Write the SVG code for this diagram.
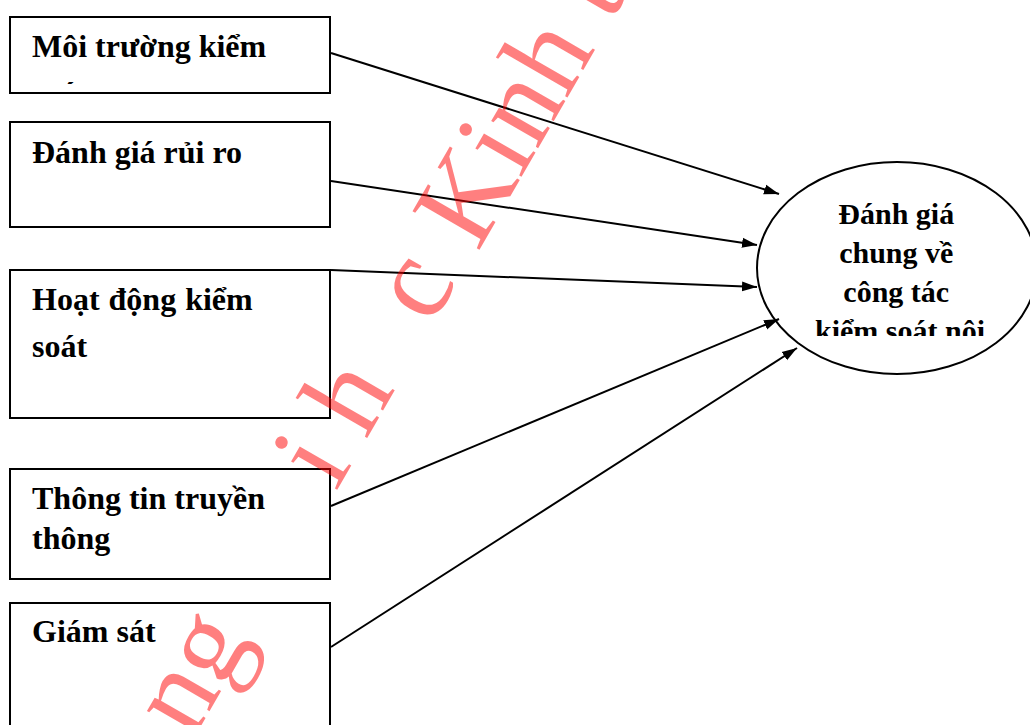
<svg xmlns="http://www.w3.org/2000/svg" width="1030" height="725" viewBox="0 0 1030 725">
  <style>
    .box { fill: #ffffff; stroke: #000000; stroke-width: 2; }
    .oval { fill: #ffffff; stroke: #000000; stroke-width: 2; }
    .lbl { font-family: "Liberation Serif", "Times New Roman", serif; font-weight: bold; font-size: 32px; fill: #000000; }
    .olbl { font-family: "Liberation Serif", "Times New Roman", serif; font-weight: bold; font-size: 30px; fill: #000000; text-anchor: middle; }
    .conn { fill: none; stroke: #000000; stroke-width: 2; marker-end: url(#arrow); }
    .wm { font-family: "Liberation Serif", "Times New Roman", serif; font-size: 118px; fill: #ff0000; fill-opacity: 0.5; }
  </style>
  <defs>
    <marker id="arrow" markerUnits="userSpaceOnUse" markerWidth="16" markerHeight="12" viewBox="0 0 16 12" refX="15" refY="6" orient="auto">
      <path d="M0,1 L15,6 L0,11 z" fill="#000000"/>
    </marker>
    <!-- text frames: overflowing lines are cut at the frame edge -->
    <clipPath id="clip-env">
      <rect x="10" y="17" width="320" height="67"/>
    </clipPath>
    <clipPath id="clip-overall">
      <rect x="757" y="162" width="280" height="174"/>
    </clipPath>
  </defs>

  <g id="node-control-environment">
    <rect class="box" x="10" y="17" width="320" height="76"/>
    <text class="lbl" clip-path="url(#clip-env)">
      <tspan x="32" y="57">Môi trường kiểm</tspan>
      <tspan x="32" y="104">soát</tspan>
    </text>
  </g>

  <g id="node-risk-assessment">
    <rect class="box" x="10" y="122" width="320" height="105"/>
    <text class="lbl" x="32" y="163">Đánh giá rủi ro</text>
  </g>

  <g id="node-control-activities">
    <rect class="box" x="10" y="270" width="320" height="148"/>
    <text class="lbl">
      <tspan x="32" y="310" word-spacing="1">Hoạt động kiểm</tspan>
      <tspan x="32" y="357">soát</tspan>
    </text>
  </g>

  <g id="node-information-communication">
    <rect class="box" x="10" y="469" width="320" height="110"/>
    <text class="lbl">
      <tspan x="32" y="509">Thông tin truyền</tspan>
      <tspan x="32" y="549">thông</tspan>
    </text>
  </g>

  <g id="node-monitoring">
    <rect class="box" x="10" y="603" width="320" height="132"/>
    <text class="lbl" x="32" y="642">Giám sát</text>
  </g>

  <g id="node-overall-assessment">
    <ellipse class="oval" cx="897" cy="268" rx="140" ry="106"/>
    <text class="olbl" clip-path="url(#clip-overall)">
      <tspan x="900" y="224">Đánh giá</tspan>
      <tspan x="900" y="263">chung về</tspan>
      <tspan x="900" y="302">công tác</tspan>
      <tspan x="900" y="341">kiểm soát nội</tspan>
    </text>
  </g>

  <g id="connectors">
    <line class="conn" x1="331" y1="53" x2="779" y2="194"/>
    <line class="conn" x1="331" y1="181" x2="757" y2="245"/>
    <line class="conn" x1="331" y1="270" x2="757" y2="287"/>
    <line class="conn" x1="331" y1="506" x2="779" y2="319"/>
    <line class="conn" x1="331" y1="647" x2="797" y2="348"/>
  </g>

  <!-- diagonal watermark -->
  <g id="watermark">
    <text class="wm" transform="rotate(-60)" y="537">
      <tspan x="-545">ng</tspan>
      <tspan x="-258">i</tspan>
      <tspan x="-198">h</tspan>
      <tspan x="-67">c</tspan>
      <tspan x="20" y="540">Kinh</tspan>
      <tspan x="285" y="540">t</tspan>
    </text>
  </g>
</svg>
